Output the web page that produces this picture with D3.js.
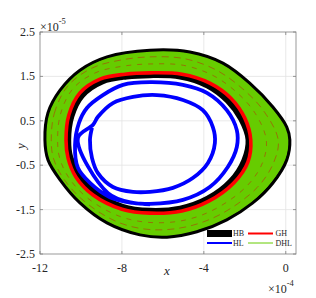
<!DOCTYPE html>
<html><head><meta charset="utf-8">
<script src="https://cdn.jsdelivr.net/npm/d3@7"></script>
<style>body{margin:0;background:#fff}svg{display:block}text{font-family:"Liberation Serif","Times New Roman",serif;fill:#262626}</style>
</head><body><svg id="c" width="316" height="298"></svg>
<script>
// x in units of 1e-4, y in units of 1e-5
const xTicks = [-12, -8, -4, 0];
const yTicks = [-2.5, -1.5, -0.5, 0.5, 1.5, 2.5];
const legendNames = ["HB", "GH", "HL", "DHL"];

// HB: outer and inner edges of the black band
const hbOuter = [[-11.76,0.07],[-11.61,0.68],[-11.02,1.19],[-10.05,1.64],[-8.73,1.94],[-6.63,2.09],[-4.68,2.05],[-3.07,1.8],[-1.76,1.35],[-0.63,0.81],[0.05,0.36],[0.2,0.07],[0.05,-0.38],[-0.63,-0.9],[-1.61,-1.35],[-2.88,-1.73],[-4.34,-2.0],[-5.8,-2.12],[-7.12,-2.07],[-8.73,-1.8],[-10.05,-1.35],[-11.02,-0.83],[-11.61,-0.38]];
const hbInner = [[-10.54,0.07],[-10.39,0.59],[-9.9,1.04],[-8.93,1.35],[-7.76,1.46],[-6.63,1.49],[-5.17,1.46],[-3.85,1.26],[-2.88,0.92],[-2.24,0.52],[-1.9,0.07],[-2.1,-0.38],[-2.73,-0.83],[-3.85,-1.22],[-5.17,-1.44],[-6.63,-1.49],[-7.95,-1.4],[-9.22,-1.1],[-10.05,-0.68],[-10.44,-0.32]];
// GH: main orbit and faint loops inside the band
const ghMain = [[-10.73,0.07],[-10.59,0.63],[-10.05,1.13],[-9.07,1.44],[-7.85,1.55],[-6.63,1.58],[-5.07,1.55],[-3.71,1.35],[-2.68,1.01],[-2.0,0.56],[-1.71,0.07],[-1.85,-0.43],[-2.54,-0.9],[-3.76,-1.31],[-5.07,-1.53],[-6.63,-1.58],[-8.0,-1.49],[-9.41,-1.17],[-10.24,-0.77],[-10.63,-0.34]];
const ghLoop1 = [[-11.14,0.07],[-11.0,0.65],[-10.4,1.22],[-9.3,1.58],[-7.95,1.73],[-6.63,1.78],[-5.0,1.75],[-3.55,1.52],[-2.37,1.13],[-1.48,0.66],[-0.95,0.07],[-1.13,-0.44],[-1.88,-0.96],[-3.42,-1.48],[-4.96,-1.74],[-6.63,-1.79],[-8.12,-1.65],[-9.65,-1.25],[-10.58,-0.79],[-11.04,-0.34]];
const ghLoop2 = [[-11.45,0.07],[-11.3,0.67],[-10.65,1.28],[-9.45,1.69],[-8.03,1.87],[-6.63,1.94],[-4.95,1.9],[-3.42,1.65],[-2.13,1.23],[-1.09,0.73],[-0.37,0.07],[-0.59,-0.44],[-1.39,-1.0],[-3.16,-1.6],[-4.88,-1.89],[-6.63,-1.95],[-8.21,-1.78],[-9.82,-1.32],[-10.84,-0.81],[-11.34,-0.35]];
// DHL: dense trajectory filling the band, outer extent (inner extent = GH main orbit)
const dhlOuter = [[-11.72,0.07],[-11.57,0.68],[-10.99,1.18],[-10.03,1.62],[-8.72,1.92],[-6.63,2.07],[-4.69,2.03],[-3.09,1.78],[-1.79,1.34],[-0.67,0.8],[0.0,0.36],[0.15,0.07],[0.0,-0.37],[-0.67,-0.88],[-1.64,-1.33],[-2.9,-1.71],[-4.35,-1.98],[-5.8,-2.1],[-7.12,-2.05],[-8.72,-1.78],[-10.03,-1.33],[-10.99,-0.82],[-11.57,-0.38]];
// HL trajectory
const hl = [[-9.46,0.34],[-9.56,0.07],[-9.46,-0.34],[-9.17,-0.68],[-8.44,-0.99],[-7.46,-1.1],[-6.63,-1.1],[-5.51,-1.01],[-4.54,-0.79],[-3.8,-0.45],[-3.46,0.0],[-3.56,0.36],[-4.05,0.74],[-5.02,0.97],[-6.29,1.08],[-7.46,1.04],[-8.44,0.9],[-9.17,0.59],[-9.41,0.41],[-10.15,0.11],[-8.68,-1.13],[-7.46,-1.35],[-6.63,-1.37],[-5.02,-1.28],[-3.71,-0.99],[-2.83,-0.54],[-2.39,-0.09],[-2.39,0.29],[-2.88,0.74],[-3.85,1.13],[-5.02,1.31],[-6.63,1.37],[-7.95,1.31],[-8.93,1.08],[-9.71,0.79],[-10.1,0.45],[-10.29,-0.05],[-10.15,-0.56],[-9.56,-0.9],[-8.59,-1.22],[-7.46,-1.35],[-6.63,-1.38]];

const svg = d3.select("#c");
const L = 40, R = 296, T = 32, B = 254;
const x = d3.scaleLinear().domain([-12, 0.5]).range([L, R]);
const y = d3.scaleLinear().domain([-2.5, 2.5]).range([B, T]);

const cl = svg.append("defs").append("clipPath").attr("id","pc");
cl.append("rect").attr("x",L).attr("y",T).attr("width",R-L).attr("height",B-T);

// grid
const g = svg.append("g");
g.selectAll(".gx").data(xTicks.filter(t=>t>-12)).join("line")
  .attr("x1",d=>x(d)).attr("x2",d=>x(d)).attr("y1",T).attr("y2",B)
  .attr("stroke","#e3e3e3").attr("stroke-width",0.8);
g.selectAll(".gy").data(yTicks.filter(t=>t>-2.5&&t<2.5)).join("line")
  .attr("y1",d=>y(d)).attr("y2",d=>y(d)).attr("x1",L).attr("x2",R)
  .attr("stroke","#e3e3e3").attr("stroke-width",0.8);

const closed = d3.line().x(d=>x(d[0])).y(d=>y(d[1])).curve(d3.curveCatmullRomClosed.alpha(0.5));
const open = d3.line().x(d=>x(d[0])).y(d=>y(d[1])).curve(d3.curveCatmullRom.alpha(0.5));

const p = svg.append("g").attr("clip-path","url(#pc)");
// HB band
p.append("path").attr("d", closed(hbOuter)+closed(hbInner)).attr("fill","#000").attr("fill-rule","evenodd");
// DHL band
p.append("path").attr("d", closed(dhlOuter)+closed(ghMain)).attr("fill","#66cc00").attr("fill-rule","evenodd");
// GH faint loops
[ghLoop1, ghLoop2].forEach((lp,i)=>{
  p.append("path").attr("d", closed(lp)).attr("fill","none").attr("stroke","#b8300c")
   .attr("stroke-width",0.8).attr("stroke-opacity",0.7).attr("stroke-dasharray", i? "7,5":"5,6");
});
// HB edges
p.append("path").attr("d", closed(hbOuter)).attr("fill","none").attr("stroke","#000").attr("stroke-width",3);
p.append("path").attr("d", closed(hbInner)).attr("fill","none").attr("stroke","#000").attr("stroke-width",2.6);
// GH main
p.append("path").attr("d", closed(ghMain)).attr("fill","none").attr("stroke","#ff0000").attr("stroke-width",3.6);
// HL
p.append("path").attr("d", open(hl)).attr("fill","none").attr("stroke","#0000ff").attr("stroke-width",3.8).attr("stroke-linejoin","round");

// axes box
const axc = "#808080";
svg.append("rect").attr("x",L).attr("y",T).attr("width",R-L).attr("height",B-T).attr("fill","none").attr("stroke",axc).attr("stroke-width",0.8);
const tk = svg.append("g").attr("stroke",axc).attr("stroke-width",0.8);
xTicks.forEach(t=>{
  tk.append("line").attr("x1",x(t)).attr("x2",x(t)).attr("y1",B).attr("y2",B-3);
  tk.append("line").attr("x1",x(t)).attr("x2",x(t)).attr("y1",T).attr("y2",T+3);
});
yTicks.forEach(t=>{
  tk.append("line").attr("y1",y(t)).attr("y2",y(t)).attr("x1",L).attr("x2",L+3);
  tk.append("line").attr("y1",y(t)).attr("y2",y(t)).attr("x1",R).attr("x2",R-3);
});
// tick labels
svg.selectAll(".xl").data(xTicks).join("text").attr("x",d=>x(d)).attr("y",272)
  .attr("text-anchor","middle").attr("font-size",12).text(d=>String(d));
svg.selectAll(".yl").data(yTicks).join("text").attr("x",35).attr("y",d=>y(d)+4)
  .attr("text-anchor","end").attr("font-size",12).text(d=>String(d));
// exponents
const e1 = svg.append("text").attr("x",40).attr("y",31).attr("font-size",12);
e1.append("tspan").text("×10");
e1.append("tspan").attr("dy",-7).attr("font-size",8.5).text("-5");
const e2 = svg.append("text").attr("x",268).attr("y",293).attr("font-size",12);
e2.append("tspan").text("×10");
e2.append("tspan").attr("dy",-7).attr("font-size",8.5).text("-4");
// axis labels
svg.append("text").attr("x",167).attr("y",275).attr("text-anchor","middle").attr("font-size",13).attr("font-style","italic").text("x");
svg.append("text").attr("transform","translate(25,146) rotate(-90)").attr("text-anchor","middle").attr("font-size",13).attr("font-style","italic").text("y");

// legend
const lg = svg.append("g");
lg.append("rect").attr("x",207).attr("y",230).attr("width",25).attr("height",7).attr("fill","#000");
lg.append("line").attr("x1",248).attr("x2",273).attr("y1",233.5).attr("y2",233.5).attr("stroke","#ff0000").attr("stroke-width",2);
lg.append("line").attr("x1",207).attr("x2",232).attr("y1",243).attr("y2",243).attr("stroke","#0000ff").attr("stroke-width",2);
lg.append("line").attr("x1",248).attr("x2",273).attr("y1",243).attr("y2",243).attr("stroke","#66cc00").attr("stroke-width",1);
const lpos = [[233,236],[275.5,236],[233,246],[275.5,246]];
legendNames.forEach((n,i)=>lg.append("text").attr("x",lpos[i][0]).attr("y",lpos[i][1]).attr("font-size",8).text(n));
</script></body></html>
